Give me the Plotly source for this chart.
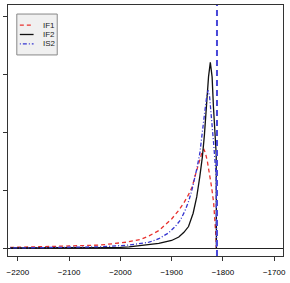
import plotly.graph_objects as go

# ---- data ----
series_names = ["IF1", "IF2", "IS2"]

if1_x = [-2215, -2150, -2100, -2040, -1988, -1960, -1944, -1925, -1912, -1900, -1886, -1876,
         -1867, -1860, -1854, -1848, -1844, -1840, -1837, -1834, -1830, -1826, -1822, -1818,
         -1815, -1813.5, -1812.8]
if1_y = [0.01, 0.02, 0.035, 0.05, 0.10, 0.15, 0.21, 0.30, 0.40, 0.50, 0.65, 0.78,
         0.92, 1.05, 1.25, 1.42, 1.57, 1.67, 1.70, 1.64, 1.48, 1.28, 1.05, 0.78,
         0.48, 0.20, 0.0]

if2_x = [-2215, -2100, -2000, -1983, -1925, -1900, -1886, -1876, -1867, -1858, -1851, -1845,
         -1840, -1836, -1832, -1828, -1824.5, -1821, -1818.5, -1815.5, -1813.8, -1813, -1812.6]
if2_y = [0.0, 0.003, 0.012, 0.02, 0.08, 0.13, 0.19, 0.27, 0.37, 0.60, 0.88, 1.23,
         1.57, 1.95, 2.50, 2.95, 3.20, 2.95, 2.45, 1.95, 1.68, 1.62, 0.0]

is2_x = [-2215, -2100, -2040, -1983, -1944, -1925, -1906, -1893, -1883, -1874, -1867, -1861,
         -1855, -1851, -1845, -1840, -1836, -1832, -1829, -1826, -1822, -1818, -1815, -1813,
         -1812.3]
is2_y = [0.0, 0.01, 0.02, 0.05, 0.10, 0.16, 0.26, 0.37, 0.48, 0.64, 0.80, 0.98,
         1.20, 1.36, 1.63, 1.95, 2.30, 2.58, 2.72, 2.62, 2.25, 1.80, 1.45, 1.25,
         0.0]

vline_x = -1811.5
x_ticks = [-2200, -2100, -2000, -1900, -1800, -1700]
y_ticks = [0, 1, 2, 3, 4]

FONT = "Liberation Sans, Arial, sans-serif"
colors = ["#e8322e", "#111111", "#3535d0"]
dashes = ["4px,3px", "solid", "1px,2px,4px,2px"]

fig = go.Figure()
for name, xs, ys, c, d in zip(series_names, [if1_x, if2_x, is2_x], [if1_y, if2_y, is2_y],
                              colors, dashes):
    fig.add_trace(go.Scatter(x=xs, y=ys, mode="lines", name=name, showlegend=False,
                             line=dict(color=c, width=1.3, dash=d)))

fig.add_vline(x=vline_x, line=dict(color="#4848d8", width=2, dash="6px,4px"))

# legend box drawn in paper coordinates (R-style compact legend)
fig.add_shape(type="rect", xref="paper", yref="paper", x0=0.032, x1=0.179, y0=0.801, y1=0.964,
              line=dict(color="#888888", width=1), fillcolor="#f0f0f0", layer="above")
leg_y = [0.920, 0.8825, 0.845]
for name, c, d, yy in zip(series_names, colors, dashes, leg_y):
    fig.add_shape(type="line", xref="paper", yref="paper", x0=0.043, x1=0.093, y0=yy, y1=yy,
                  line=dict(color=c, width=1.3, dash=d), layer="above")
    fig.add_annotation(text=name, xref="paper", yref="paper", x=0.120, y=yy,
                       xanchor="left", yanchor="middle", showarrow=False,
                       font=dict(size=8, color="#222"))

fig.update_layout(
    width=290, height=283,
    margin=dict(l=7, r=4, t=5, b=27),
    paper_bgcolor="white", plot_bgcolor="white",
    font=dict(family=FONT, size=8, color="black"),
    showlegend=False,
)
fig.update_xaxes(range=[-2219.2, -1682.7], tickvals=x_ticks, ticks="outside", ticklen=4,
                 tickcolor="#333", showline=True, mirror=True, linecolor="#333",
                 linewidth=1, showgrid=False, zeroline=False, tickfont=dict(size=8),
                 ticklabelstandoff=4)
fig.update_yaxes(range=[-0.138, 4.19], tickvals=y_ticks, showticklabels=False,
                 ticks="outside", ticklen=4, tickcolor="#333", showline=True, mirror=True,
                 linecolor="#333", linewidth=1, showgrid=False,
                 zeroline=True, zerolinecolor="#222", zerolinewidth=1)

fig.write_html("out.html")
